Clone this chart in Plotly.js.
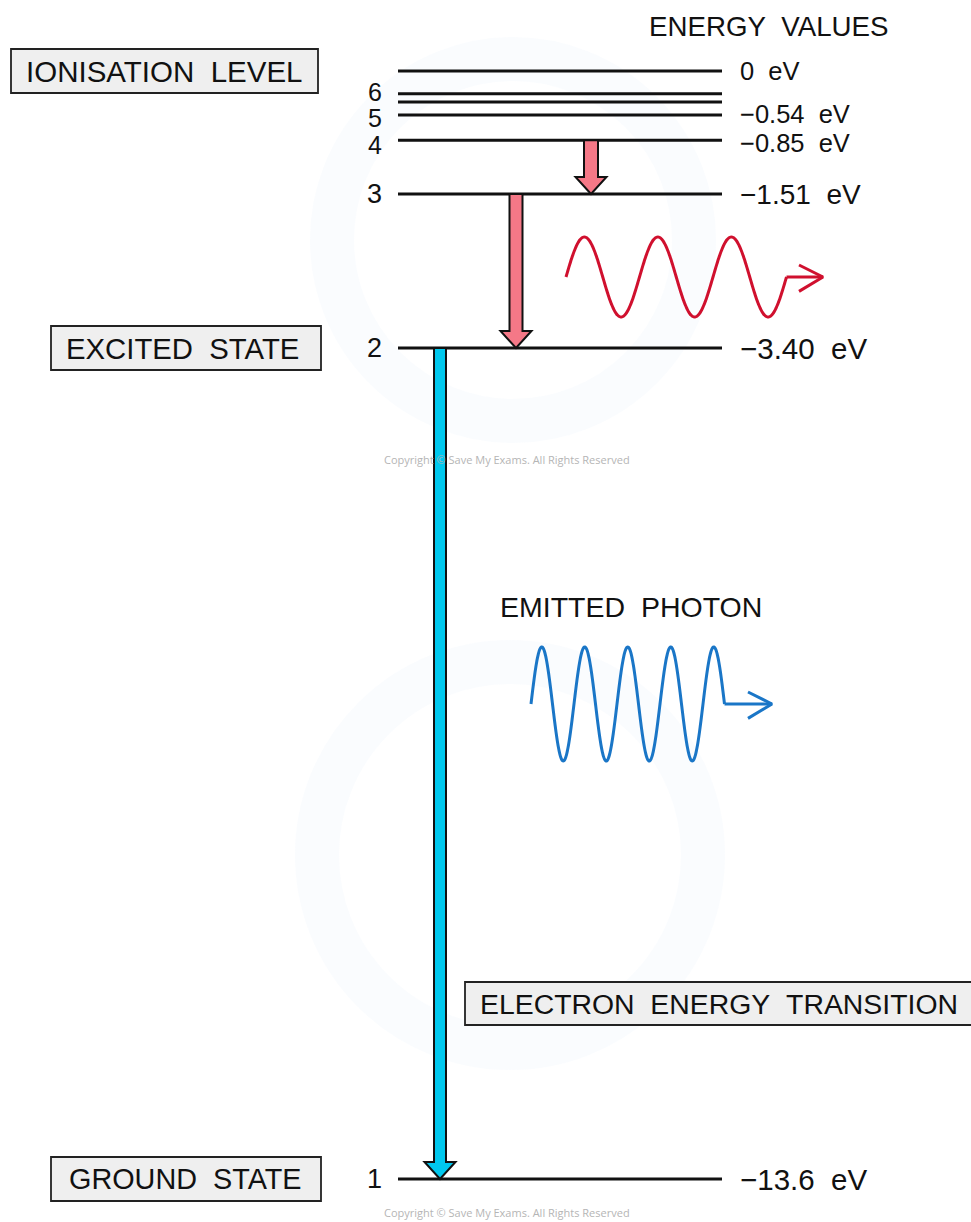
<!DOCTYPE html>
<html><head><meta charset="utf-8">
<script src="https://cdn.plot.ly/plotly-3.0.1.min.js"></script>
<style>html,body{margin:0;padding:0;background:#fff;overflow:hidden}</style>
</head><body><div id="chart" style="width:971px;height:1222px"></div>
<script>
// ---- data ----
const levelNumbers   = ['∞', '7', '6', '5', '4', '3', '2', '1'];
const levelEnergies  = [0, -0.28, -0.38, -0.54, -0.85, -1.51, -3.40, -13.6];
const levelTags      = ['', '', '6', '5', '4', '3', '2', '1'];
const energyLabels   = ['0 eV', '', '', '−0.54 eV', '−0.85 eV', '−1.51 eV', '−3.40 eV', '−13.6 eV'];
const stateNames     = ['IONISATION LEVEL', 'EXCITED STATE', 'GROUND STATE'];
const stateEnergies  = [0, -3.40, -13.6];
const transFrom      = [-0.85, -1.51, -3.40];
const transTo        = [-1.51, -3.40, -13.6];
const headerText     = 'ENERGY VALUES';
const photonText     = 'EMITTED PHOTON';
const transitionText = 'ELECTRON ENERGY TRANSITION';
const copyrightText  = 'Copyright © Save My Exams. All Rights Reserved';

// ---- layout helpers ----
const W = 971, H = 1222;
const topPx = 71, botPx = 1179;
const pxPerEv = (botPx - topPx) / 13.6;
const yMax = topPx / pxPerEv;
const yMin = yMax - H / pxPerEv;
const ev = px => px / pxPerEv;            // pixel length -> energy length
const FONT = "'Liberation Sans', Arial, sans-serif";
const sp = s => s.replace(/ /g, '\u00A0\u00A0');
const tagShift = {'6': 10, '5': -3, '4': -5};
const labelShift = {'−0.54 eV': 1, '−0.85 eV': -3};

const traces = [];
const shapes = [];
const annotations = [];

// watermark rings (pixel space)
[[513, 240, 203], [510, 855, 215]].forEach(([cx, cy, r]) => {
  shapes.push({type:'circle', xref:'x', yref:'y2', x0:cx-r+22, x1:cx+r-22, y0:cy-r+22, y1:cy+r-22,
    line:{color:'rgba(215,232,250,0.13)', width:44}, layer:'below'});
});

// level lines
levelEnergies.forEach((E, i) => {
  traces.push({x:[398, 722], y:[E, E], mode:'lines', line:{color:'#111', width:3},
    hoverinfo:'skip', showlegend:false});
  if (levelTags[i]) {
    annotations.push({x:384, y:E, xref:'x', yref:'y', text:levelTags[i], showarrow:false,
      xanchor:'right', yanchor:'middle', yshift:tagShift[levelTags[i]] || 0,
      font:{family:FONT, size: E > -1 ? 25 : 27, color:'#111'}});
  }
  if (energyLabels[i]) {
    annotations.push({x:738, y:E, xref:'x', yref:'y', text:sp(energyLabels[i]), showarrow:false,
      xanchor:'left', yanchor:'middle', yshift:labelShift[energyLabels[i]] || 0,
      font:{family:FONT, size: E > -1 ? 25.5 : (E > -2 ? 28 : 29.5), color:'#111'}});
  }
});

// state boxes
const boxX = [[11, 318], [51, 321], [51, 321]];
const boxTextX = [24, 64, 67];
const boxFont = [29.5, 29.3, 28.8];
stateEnergies.forEach((E, i) => {
  shapes.push({type:'rect', xref:'x', yref:'y', x0:boxX[i][0], x1:boxX[i][1],
    y0:E - ev(22), y1:E + ev(22), fillcolor:'#efefef', line:{color:'#222', width:1.8}});
  annotations.push({x:boxTextX[i], y:E, xref:'x', yref:'y', text:sp(stateNames[i]), showarrow:false,
    xanchor:'left', yanchor:'middle', font:{family:FONT, size:boxFont[i], color:'#111'}});
});

// transition arrows
const arrowX = [591, 516, 440];
const arrowCol = ['#f57887', '#f57887', '#00c8ee'];
const shaftHalf = [7, 6.5, 6], headHalf = [15.5, 15.5, 15.5], headLen = [17, 17, 17];
transFrom.forEach((E0, i) => {
  const cx = arrowX[i], E1 = transTo[i];
  const sh = shaftHalf[i], hh = headHalf[i], hl = ev(headLen[i]);
  const path = `M${cx-sh},${E0} L${cx+sh},${E0} L${cx+sh},${E1+hl} L${cx+hh},${E1+hl} L${cx},${E1} ` +
               `L${cx-hh},${E1+hl} L${cx-sh},${E1+hl} Z`;
  shapes.push({type:'path', xref:'x', yref:'y', path, fillcolor:arrowCol[i],
    line:{color:'#111', width:2}});
});

// photon waves (decorative, pixel space)
function wave(x0, cy, amp, period, cycles, tailEnd, col, head) {
  const xs = [], ys = [];
  const n = 240;
  for (let k = 0; k <= n; k++) {
    const t = k / n * cycles;
    xs.push(x0 + t * period);
    ys.push(cy - amp * Math.sin(2 * Math.PI * t));
  }
  const xe = x0 + cycles * period;
  traces.push({x:xs, y:ys, yaxis:'y2', mode:'lines', line:{color:col, width:3, shape:'spline'},
    hoverinfo:'skip', showlegend:false});
  traces.push({x:[xe, tailEnd], y:[cy, cy], yaxis:'y2', mode:'lines', line:{color:col, width:3},
    hoverinfo:'skip', showlegend:false});
  traces.push({x:[tailEnd - head, tailEnd, tailEnd - head], y:[cy - head*0.5, cy, cy + head*0.6],
    yaxis:'y2', mode:'lines', line:{color:col, width:3}, hoverinfo:'skip', showlegend:false});
}
wave(566, 277, 40, 73.5, 3, 823, '#d0102e', 24);
wave(531, 704, 57, 43, 4.5, 772, '#1a76c7', 24);

// free texts (pixel space)
annotations.push({x:769, y:26, xref:'x', yref:'y2', text:sp(headerText), showarrow:false,
  xanchor:'center', yanchor:'middle', font:{family:FONT, size:27.7, color:'#111'}});
annotations.push({x:498, y:607, xref:'x', yref:'y2', text:sp(photonText), showarrow:false,
  xanchor:'left', yanchor:'middle', font:{family:FONT, size:28.5, color:'#111'}});
shapes.push({type:'rect', xref:'x', yref:'y2', x0:465, x1:975, y0:982, y1:1025,
  fillcolor:'#efefef', line:{color:'#222', width:1.8}});
annotations.push({x:478, y:1004, xref:'x', yref:'y2', text:sp(transitionText), showarrow:false,
  xanchor:'left', yanchor:'middle', font:{family:FONT, size:28.4, color:'#111'}});
[459, 1212].forEach(y => annotations.push({x:507, y, xref:'x', yref:'y2', text:copyrightText,
  showarrow:false, xanchor:'center', yanchor:'middle', font:{family:"'Open Sans', sans-serif", size:11, color:'#b5b5b5'}}));

const layout = {
  width:W, height:H, margin:{l:0, r:0, t:0, b:0}, paper_bgcolor:'#fff', plot_bgcolor:'#fff',
  showlegend:false,
  xaxis:{range:[0, W], visible:false, fixedrange:true},
  yaxis:{range:[yMin, yMax], visible:false, fixedrange:true},
  yaxis2:{range:[H, 0], overlaying:'y', visible:false, fixedrange:true},
  shapes, annotations
};
Plotly.newPlot('chart', traces, layout, {displayModeBar:false, staticPlot:true});
</script></body></html>
